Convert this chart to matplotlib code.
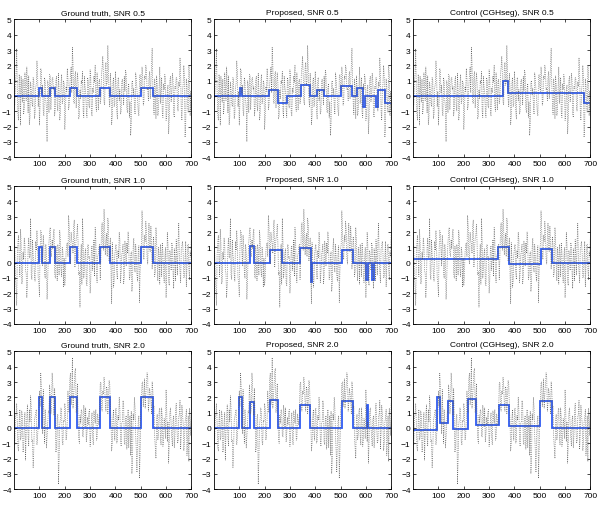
import numpy as np
import matplotlib.pyplot as plt

plt.rcParams['font.family'] = ['Liberation Sans', 'DejaVu Sans']
plt.rcParams['font.size'] = 6

# noisy observations, read at every 5th probe (x = 5, 10, ..., 700)
obs_05 = [0.8, 3.1, -1.2, 1.4, -1.9, 0.3, 1.1, -0.8, 0.6, 1.9,
          -1.1, -1.9, 0.9, -0.4, 1.2, -1.5, 0.5, 2.3, -0.7, -1.9,
          1.8, 0.2, -1.0, 1.2, -0.3, -3.0, 0.7, 1.4, -0.9, 1.1,
          0.4, -1.3, 1.0, -0.6, 1.5, -1.6, 0.8, -0.5, 1.0, -2.2,
          0.6, 1.8, -0.9, 0.7, 1.9, 3.2, -0.4, 1.3, -0.8, 1.5,
          -1.5, 0.4, 1.0, 1.6, -1.4, 0.6, -0.9, 1.2, -0.6, 1.7,
          -1.1, 0.5, 1.3, 2.0, -1.0, 0.3, 0.9, -0.5, 1.4, 2.6,
          -0.4, 1.8, 0.7, 3.3, -0.2, 1.5, -1.9, 0.8, -0.7, 1.6,
          -0.9, 1.1, -0.3, -1.2, 0.9, 0.2, 1.3, 1.7, -0.8, 0.5,
          -1.4, -2.6, 0.9, 0.1, -0.7, 1.5, 0.4, -1.0, 1.2, 0.6,
          1.9, -0.6, 1.3, 2.0, 0.4, -0.3, 1.6, 0.9, 3.1, -0.5,
          1.1, -1.5, 0.7, -0.9, 1.9, 0.3, -1.1, 0.8, 1.4, -1.6,
          0.5, -2.5, 1.0, -0.4, 1.5, -1.2, 0.6, 1.2, -0.8, 0.9,
          2.5, -1.0, 0.3, 2.0, -2.7, 1.1, -0.6, 2.0, -1.3, -1.8]

obs_10 = [-0.9, -2.8, 1.3, 0.2, 2.2, -1.4, 0.7, 1.6, -0.5, -2.3,
          1.0, 0.3, 2.9, -1.1, 0.5, -0.8, 1.4, 2.1, -1.0, -2.2,
          2.1, 0.9, 1.8, -0.6, 1.2, -2.4, 0.4, 2.0, 0.6, 1.5,
          1.9, -0.7, 1.1, -1.2, 0.8, 2.1, -0.4, 1.0, -1.6, -1.5,
          0.7, 1.3, 3.1, 0.4, 2.0, 1.2, 2.4, -0.3, 1.6, 2.5,
          -0.8, -2.9, 1.2, 2.9, -1.0, 0.6, -1.3, 1.1, 0.3, -2.0,
          0.9, -0.5, 1.5, 2.3, -0.7, 0.4, 1.0, -1.1, 2.2, 1.4,
          3.5, 0.5, 1.9, 2.9, 0.1, 1.6, -2.7, 0.3, -1.2, 1.0,
          -0.6, 0.8, 2.0, -1.3, 0.5, 1.2, -0.9, 0.6, 1.3, 2.0,
          -1.1, 0.4, -1.9, 1.0, -0.3, 1.2, -0.8, 0.7, -2.6, 0.9,
          3.4, 0.6, 1.8, 2.7, 0.3, 1.5, 0.9, 2.4, -0.4, 1.7,
          -0.9, 2.3, -0.2, 1.0, -1.4, 0.6, 1.3, -0.7, 0.2, -2.3,
          2.0, -1.2, 0.8, -0.5, 1.1, -1.7, 0.4, 1.5, -0.8, 2.6,
          -0.6, 0.9, 1.4, -1.0, 0.3, -1.6, 1.2, -0.4, 0.7, 1.8]

obs_20 = [0.6, 1.6, -1.3, 0.4, -0.8, 1.1, -1.6, 0.3, -2.1, 0.7,
          -0.5, 1.2, 2.1, -0.9, -2.6, 0.5, 1.0, -1.1, 0.2, 2.4,
          3.6, 1.2, 2.5, -1.0, 0.4, -0.6, 1.1, 2.8, 0.9, 3.6,
          1.5, 2.6, -1.6, 0.7, -3.7, 0.2, 1.3, -0.9, 0.5, 1.6,
          -0.8, 0.6, 1.1, 3.2, 1.5, 4.6, 2.0, 3.7, 1.0, 2.9,
          -0.7, 0.8, 1.2, -0.5, 1.5, 0.1, -0.9, 0.7, 1.0, -1.2,
          0.4, -0.6, 1.1, 0.3, -0.8, 0.9, 0.2, 2.9, 1.3, 2.4,
          3.3, 1.6, 2.7, 0.9, 3.1, 1.4, -1.5, 0.6, -0.4, 1.1,
          -1.0, 0.8, 2.0, -0.7, 0.3, 1.8, -0.9, 0.6, -1.4, 1.2,
          0.2, -1.8, -3.0, 0.9, 2.0, -0.5, -2.9, 0.4, -3.3, 1.0,
          2.9, 1.4, 3.2, 2.2, 3.6, 1.1, 2.6, 1.9, 3.0, 1.3,
          -0.6, -2.0, 0.9, -0.4, 1.3, -1.1, 0.6, -0.8, 0.3, 2.5,
          -0.9, -2.3, 1.0, 0.2, -1.2, 0.8, -0.5, 1.6, -1.0, 0.7,
          1.8, -0.3, 0.9, -1.5, 0.4, 1.2, -0.8, -2.2, 0.5, 1.6]

# in-between probes (x = 2.5, 7.5, ..., 697.5)
obs_05b = [-0.6, 1.5, 0.2, -1.6, 0.9, 1.3, -0.4, -1.2, 1.5, -0.3,
           0.6, 1.3, -1.4, 0.4, -0.7, 1.0, -1.2, 0.8, 1.6, 0.3,
           -0.5, 1.6, 0.7, -1.3, 0.9, -0.8, 1.0, -1.1, 1.3, 0.2,
           1.2, 0.6, -0.8, 1.3, -1.0, 0.4, -1.2, 1.4, -0.3, 0.8,
           -1.3, 0.3, 1.1, -0.6, 1.4, 0.2, 2.1, -0.5, 1.6, 0.7,
           0.9, -1.3, -0.2, 0.8, -1.0, 1.3, 0.2, -1.4, 1.0, -0.8,
           1.2, -1.3, 0.2, 0.9, -0.6, 1.5, -0.9, 1.1, -0.2, 1.9,
           1.3, -0.6, 2.2, 0.9, 1.6, -0.7, 0.6, -1.3, 1.2, -0.5,
           0.7, -1.5, 1.2, 0.4, -1.0, 1.1, -0.6, 0.3, 1.4, -1.1,
           0.8, -0.4, -1.8, 1.0, 0.5, -1.2, 1.1, -0.3, -1.3, 1.4,
           0.3, 1.4, -0.4, 1.1, 1.7, 0.5, 1.2, -0.2, 1.9, 0.8,
           -1.2, 0.5, 1.3, -1.3, 0.6, -0.5, 1.2, -1.4, 0.4, 1.1,
           -1.3, 0.7, -1.5, 1.3, 0.2, 1.0, -1.4, 0.5, 1.1, -1.0,
           0.6, 1.5, -1.6, 0.8, 1.2, -1.9, 0.7, -1.1, 1.4, 0.3]

obs_10b = [1.1, -1.6, 0.5, 1.8, -0.9, 1.3, -1.3, 0.2, 1.2, -0.7,
           -1.4, 1.6, 0.4, -0.8, 1.5, 0.2, -1.2, 0.8, 1.1, -1.3,
           0.8, 2.0, -0.2, 1.1, -1.0, 0.6, -1.2, 1.3, 2.3, 0.4,
           0.9, 2.2, -1.0, 0.5, 1.2, -0.8, 1.5, -0.9, 0.7, 0.3,
           -0.9, 1.2, 0.4, 2.3, -0.1, 1.5, 0.6, 2.8, 0.9, 1.8,
           1.3, -0.6, 0.2, -1.4, 1.4, -0.4, 0.9, -1.5, 1.2, 0.4,
           -1.2, 1.1, 0.2, -0.9, 1.5, -1.3, 0.6, 1.2, 0.3, 2.6,
           0.8, 2.2, 1.3, 0.4, 2.5, 0.9, -0.5, 1.3, -1.6, 0.5,
           1.2, -1.1, 0.3, 1.5, -0.7, 0.8, -1.4, 1.4, -0.2, 0.6,
           1.4, -0.9, 0.7, -1.3, 1.6, -0.6, 0.4, -1.2, 1.1, -0.5,
           1.2, 2.3, 0.2, 1.4, 2.0, -0.1, 2.6, 0.7, 1.3, 0.5,
           1.1, -0.6, 1.5, -1.2, 0.5, 1.2, -0.9, 0.7, -1.3, 1.0,
           -0.8, 1.2, -1.5, 0.4, 1.3, -0.6, 0.9, -1.2, 0.5, 1.4,
           0.3, -1.3, 1.1, 0.6, -0.9, 1.4, -0.3, 1.2, -1.1, 0.4]

obs_20b = [-1.1, 0.9, 0.3, -1.5, 1.2, -0.6, 0.8, -1.4, 1.0, -0.3,
           1.5, -1.2, 0.4, 1.3, -0.8, -1.5, 0.7, 1.2, -0.6, 0.9,
           1.4, 2.7, -0.4, 0.9, 1.2, -1.3, 0.3, 1.0, 2.1, 1.3,
           2.9, 0.8, 0.5, -1.2, 0.9, -2.1, 0.6, 1.0, -1.1, 0.4,
           1.2, -0.5, 2.4, 1.0, 3.6, 2.1, 1.3, 2.8, 3.9, 1.6,
           0.6, -1.0, 0.3, 1.1, -0.6, 0.9, 1.3, -0.4, 0.2, 1.2,
           -0.5, 1.0, -1.1, 0.7, 1.2, -0.7, 0.5, 1.0, 3.0, 1.1,
           2.2, 2.8, 1.1, 2.5, 1.8, 2.9, 0.5, -1.0, 1.2, -0.8,
           1.3, -0.9, 0.5, 1.2, -1.2, 0.4, 1.5, -1.1, 0.8, -0.4,
           -1.3, 0.8, 1.1, -2.0, 0.5, 1.3, -1.5, -0.6, 0.8, -1.6,
           1.6, 3.0, 2.0, 1.3, 2.8, 3.3, 1.6, 2.2, 0.9, 2.5,
           1.4, -1.3, 0.5, -0.8, 1.1, -0.5, 1.3, -1.2, 0.6, -0.7,
           1.2, 0.4, -1.0, 1.3, -0.6, 0.5, -1.3, 1.1, 0.3, -0.9,
           0.9, -1.4, 1.5, 0.3, -1.0, 0.6, -1.8, 0.8, 1.3, -0.5]

# segmentations: breakpoints and segment levels
truth_edges = [0, 100, 110, 140, 160, 220, 250, 340, 380, 500, 550, 700]
truth_pattern = [0, 1, 0, 1, 0, 1, 0, 1, 0, 1, 0]

prop05_edges = [0, 101, 111, 217, 253, 288, 344, 381, 408, 435, 500, 547,
                565, 587, 595, 640, 647, 677, 700]
prop05_levels = [0, 0.51, 0, 0.4, -0.44, 0, 0.69, 0, 0.4, 0, 0.64, 0,
                 0.51, -0.73, 0, -0.7, 0.4, -0.44]

ctrl05_edges = [0, 353, 376, 675, 700]
ctrl05_levels = [-0.02, 1.0, 0.17, -0.47]

prop10_edges = [0, 141, 157, 221, 267, 339, 385, 389, 507, 551, 600, 607,
                624, 631, 700]
prop10_levels = [0, 1.07, 0, 0.84, 0, 0.96, -1.29, 0, 0.84, 0, -1.1, 0,
                 -1.15, 0]

ctrl10_edges = [0, 336, 379, 503, 548, 700]
ctrl10_levels = [0.22, 1.04, -0.09, 0.87, -0.04]

prop20_edges = [0, 97, 109, 141, 160, 220, 253, 341, 380, 504, 551, 605,
                609, 700]
prop20_levels = [0, 2.0, 0, 1.7, 0, 1.8, 0, 1.48, 0, 1.74, 0, 1.5, 0]

ctrl20_edges = [0, 95, 106, 138, 158, 218, 247, 339, 379, 501, 548, 700]
ctrl20_levels = [-0.15, 2.0, 0.34, 1.74, -0.06, 1.87, 0.17, 1.48, 0.11,
                 1.74, 0.0]

snrs = ['0.5', '1.0', '2.0']
amps = [0.5, 1.0, 2.0]
methods = ['Ground truth', 'Proposed', 'Control (CGHseg)']
obs_main = [obs_05, obs_10, obs_20]
obs_mid = [obs_05b, obs_10b, obs_20b]
fits = [[(prop05_edges, prop05_levels), (ctrl05_edges, ctrl05_levels)],
        [(prop10_edges, prop10_levels), (ctrl10_edges, ctrl10_levels)],
        [(prop20_edges, prop20_levels), (ctrl20_edges, ctrl20_levels)]]

xs = np.arange(2.5, 702.5, 2.5)

fig = plt.figure(figsize=(6.0, 5.1), dpi=100)
lefts = [0.024, 0.357, 0.689]
bottoms = [0.690, 0.363, 0.039]
w, h = 0.295, 0.270

for r in range(3):
    ys = np.empty(len(xs))
    ys[0::2] = obs_mid[r]
    ys[1::2] = obs_main[r]
    segs = [(truth_edges, [amps[r] * p for p in truth_pattern])] + fits[r]
    for c in range(3):
        ax = fig.add_axes([lefts[c], bottoms[r], w, h])
        ax.plot(xs, ys, linestyle=':', color='0.35', linewidth=0.5)
        edges, levels = segs[c]
        ax.stairs(levels, edges, baseline=None, color='#2f5cf2', linewidth=1.3)
        ax.set_xlim(1, 700)
        ax.set_ylim(-4, 5)
        ax.set_xticks([100, 200, 300, 400, 500, 600, 700])
        ax.set_yticks(range(-4, 6))
        ax.tick_params(direction='in', length=2.5, width=0.5, pad=2,
                       top=True, right=True, labelsize=6)
        for s in ax.spines.values():
            s.set_linewidth(0.6)
        ax.set_title(f'{methods[c]}, SNR {snrs[r]}', fontsize=6, pad=4)

fig.savefig('out.png', dpi=100)
